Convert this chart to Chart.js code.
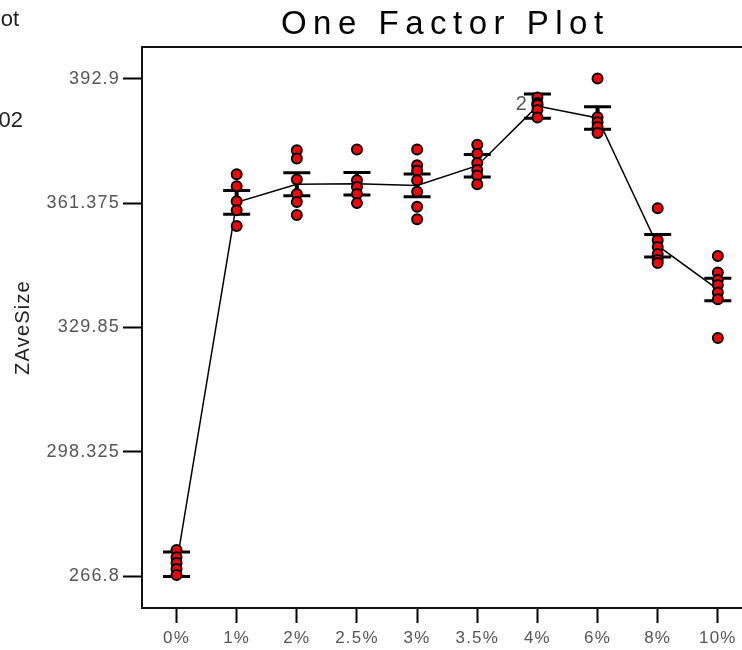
<!DOCTYPE html>
<html>
<head>
<meta charset="utf-8">
<script src="https://cdn.jsdelivr.net/npm/chart.js@4.4.1/dist/chart.umd.min.js"></script>
<style>
  html, body { margin: 0; padding: 0; background: #fff; }
  #wrap { position: relative; width: 742px; height: 650px; overflow: hidden; }
  .frag { position: absolute; font-family: "Liberation Sans", Arial, sans-serif; color: #222; white-space: nowrap; line-height: 22px; }
</style>
</head>
<body>
<div id="wrap">
  <canvas id="chart" width="759" height="650"></canvas>
  <span class="frag" style="right:723px; top:8px; font-size:22px;">ot</span>
  <span class="frag" style="right:719px; top:109px; font-size:22px;">02</span>
</div>
<script>
// factor levels along the x axis
const categories = ['0%', '1%', '2%', '2.5%', '3%', '3.5%', '4%', '6%', '8%', '10%'];

// y axis ticks
const yTicks = [266.8, 298.325, 329.85, 361.375, 392.9];
const yTickLabels = ['266.8', '298.325', '329.85', '361.375', '392.9'];

const obs0 = [273.4, 271.6, 270.1, 268.6, 267.1];
const obs1 = [368.7, 365.7, 361.9, 359.6, 355.6];
const obs2 = [374.8, 372.7, 367.4, 363.7, 361.7, 358.4];
const obs25 = [375.0, 367.2, 365.5, 363.7, 361.4];
const obs3 = [375.0, 371.0, 369.6, 367.2, 364.3, 360.5, 357.3];
const obs35 = [376.2, 373.9, 371.6, 369.8, 368.4, 366.2];
const obs4 = [388.2, 386.8, 386.3, 386.3, 385.0, 383.1];
const obs6 = [393.0, 383.2, 381.9, 380.7, 379.2];
const obs8 = [360.1, 352.0, 350.3, 348.5, 347.0, 346.2];
const obs10 = [348.0, 343.8, 341.9, 340.6, 338.7, 337.0, 327.2];
const observations = [obs0, obs1, obs2, obs25, obs3, obs35, obs4, obs6, obs8, obs10];

// level means and half width of the interval bars
const means = [269.8, 361.6, 366.2, 366.3, 365.9, 370.9, 386.0, 383.0, 350.6, 339.5];
const halfWidths = [3.1, 3.0, 2.9, 2.85, 2.9, 2.85, 3.1, 2.85, 2.85, 2.85];

// "2" marker for coincident points
const countLabels = [{ cat: 6, value: 386.3, text: '2' }];

const FONT = '"Liberation Sans", Arial, sans-serif';

const pointData = [];
observations.forEach((vals, i) => vals.forEach(v => pointData.push({ x: i, y: v })));

const datasets = [];
datasets.push({
    label: 'obs',
    data: pointData,
    pointRadius: 5,
    pointBorderWidth: 2,
    pointBackgroundColor: '#ff0000',
    pointBorderColor: '#000',
    showLine: false
});
datasets.push({
    label: 'caps',
    data: means.flatMap((m, i) => [{ x: i, y: m - halfWidths[i] }, { x: i, y: m + halfWidths[i] }]),
    pointStyle: 'line',
    pointRadius: 13.5,
    pointBorderWidth: 3,
    pointBorderColor: '#000',
    showLine: false
});
means.forEach((m, i) => {
    datasets.push({
        label: 'bar' + i,
        data: [{ x: i, y: m - halfWidths[i] }, { x: i, y: m + halfWidths[i] }],
        showLine: true,
        borderColor: '#000',
        borderWidth: 4,
        pointRadius: 0
    });
});
datasets.push({
    label: 'mean',
    data: means.map((m, i) => ({ x: i, y: m })),
    showLine: true,
    borderColor: '#000',
    borderWidth: 1.5,
    pointRadius: 0
});

const framePlugin = {
    id: 'frame',
    beforeDraw(chart) {
        // the original's axis text is set a little wide
        if ('letterSpacing' in chart.ctx) chart.ctx.letterSpacing = '1.2px';
    },
    beforeDatasetsDraw(chart) {
        const { ctx, chartArea } = chart;
        ctx.save();
        ctx.strokeStyle = '#111';
        ctx.lineWidth = 2;
        ctx.beginPath();
        ctx.moveTo(chartArea.left, chartArea.top);
        ctx.lineTo(chartArea.right, chartArea.top);
        ctx.stroke();
        ctx.restore();
    },
    afterDraw(chart) {
        const { ctx, chartArea, scales } = chart;
        ctx.save();
        // title
        ctx.fillStyle = '#000';
        ctx.font = '33px ' + FONT;
        ctx.textAlign = 'center';
        ctx.textBaseline = 'alphabetic';
        if ('letterSpacing' in ctx) ctx.letterSpacing = '6.5px';
        ctx.fillText('One Factor Plot', (chartArea.left + chartArea.right) / 2 + 3, 34);
        if ('letterSpacing' in ctx) ctx.letterSpacing = '0px';
        // coincident point counts
        ctx.fillStyle = '#555';
        ctx.font = '20px ' + FONT;
        ctx.textAlign = 'center';
        ctx.textBaseline = 'middle';
        countLabels.forEach(l => {
            ctx.fillText(l.text, scales.x.getPixelForValue(l.cat) - 16, scales.y.getPixelForValue(l.value));
        });
        ctx.restore();
        if ('letterSpacing' in ctx) ctx.letterSpacing = '0px';
    }
};

new Chart(document.getElementById('chart'), {
    type: 'scatter',
    data: { datasets: datasets },
    options: {
        responsive: false,
        animation: false,
        layout: { padding: { top: 47, left: 0, right: 0, bottom: 0 } },
        plugins: {
            legend: { display: false },
            tooltip: { enabled: false },
            title: { display: false }
        },
        scales: {
            x: {
                type: 'linear',
                min: -0.574,
                max: 9.41,
                afterBuildTicks: (scale) => { scale.ticks = categories.map((c, i) => ({ value: i })); },
                afterFit: (scale) => { scale.height = 42; },
                ticks: {
                    callback: (v) => categories[v],
                    color: '#555',
                    font: { family: FONT, size: 17 },
                    padding: 5,
                    maxRotation: 0,
                    autoSkip: false
                },
                grid: { display: true, drawOnChartArea: false, drawTicks: true, tickLength: 15, tickWidth: 2, tickColor: '#000' },
                border: { display: true, color: '#111', width: 2 }
            },
            y: {
                min: 258.7,
                max: 401.0,
                afterBuildTicks: (scale) => { scale.ticks = yTicks.map(v => ({ value: v })); },
                afterFit: (scale) => { scale.width = 142; },
                ticks: {
                    callback: (v, i) => yTickLabels[i],
                    color: '#555',
                    font: { family: FONT, size: 18 },
                    padding: 3
                },
                grid: { display: true, drawOnChartArea: false, drawTicks: true, tickLength: 19, tickWidth: 2, tickColor: '#000' },
                border: { display: true, color: '#111', width: 2 },
                title: {
                    display: true,
                    text: 'ZAveSize',
                    color: '#222',
                    font: { family: FONT, size: 20 },
                    padding: { top: 11, bottom: 0 }
                }
            }
        }
    },
    plugins: [framePlugin]
});
</script>
</body>
</html>
